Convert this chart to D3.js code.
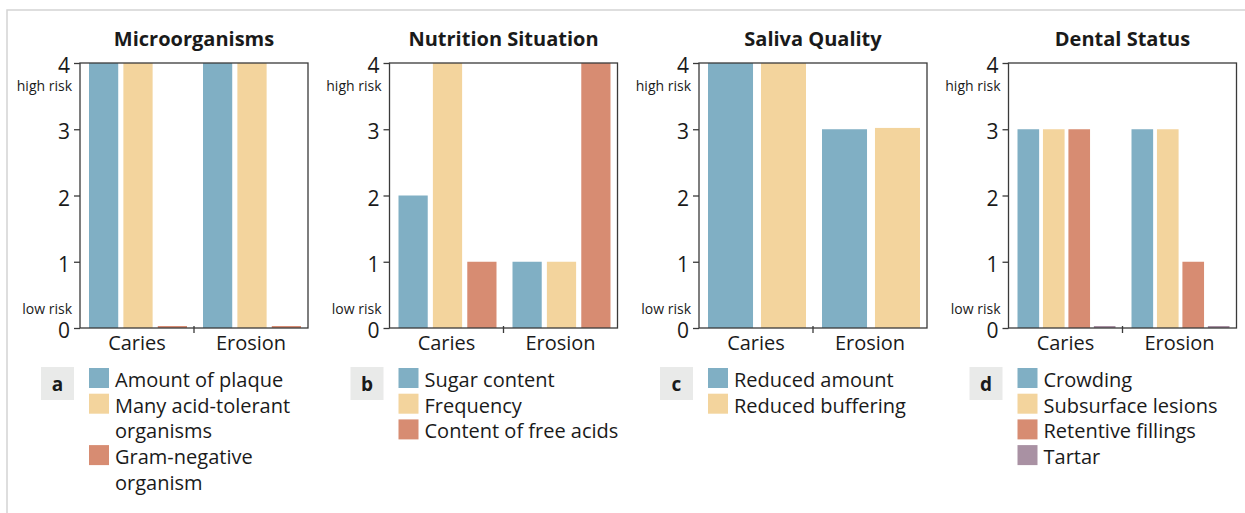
<!DOCTYPE html>
<html>
<head>
<meta charset="utf-8">
<script src="https://cdn.jsdelivr.net/npm/d3@7"></script>
<style>
  body { margin: 0; background: #fff; }
  svg { display: block; font-family: "Open Sans", sans-serif; }
</style>
</head>
<body>
<svg id="chart" width="1245" height="513"></svg>
<script>
// values
const categories = ['Caries', 'Erosion']
const yTicks = [0, 1, 2, 3, 4]

const panelTitles = ['Microorganisms', 'Nutrition Situation', 'Saliva Quality', 'Dental Status']
const panelLetters = ['a', 'b', 'c', 'd']

const microSeries = ['Amount of plaque', 'Many acid-tolerant organisms', 'Gram-negative organism']
const microValues = [[4, 4, 0.03], [4, 4, 0.03]]

const nutritionSeries = ['Sugar content', 'Frequency', 'Content of free acids']
const nutritionValues = [[2, 4, 1], [1, 1, 4]]

const salivaSeries = ['Reduced amount', 'Reduced buffering']
const salivaValues = [[4, 4], [3, 3.02]]

const dentalSeries = ['Crowding', 'Subsurface lesions', 'Retentive fillings', 'Tartar']
const dentalValues = [[3, 3, 3, 0.03], [3, 3, 1, 0.03]]

const colors = ['#80afc4', '#f3d49d', '#d78c72', '#a991a3']

const panels = [
  { series: microSeries, values: microValues },
  { series: nutritionSeries, values: nutritionValues },
  { series: salivaSeries, values: salivaValues },
  { series: dentalSeries, values: dentalValues }
]

const svg = d3.select('#chart')

// outer frame (open to the right / bottom)
svg.append('path')
  .attr('d', 'M7,513 V10 H1245')
  .attr('fill', 'none')
  .attr('stroke', '#d4d4d4')
  .attr('stroke-width', 1.5)

const plotTop = 63, plotH = 265, plotW = 228
const axisColor = '#3a3a3a'
const textColor = '#1a1a1a'

const y = d3.scaleLinear().domain([0, 4]).range([plotH, 0])

panels.forEach((p, i) => {

  const left = 80 + i * 309.5
  const g = svg.append('g').attr('transform', `translate(${ left },${ plotTop })`)

  const x0 = d3.scaleBand().domain(categories).range([0, plotW])
  const x1 = d3.scaleBand()
    .domain(d3.range(p.series.length))
    .range([9, x0.bandwidth() - 7])
    .paddingInner(0.15)

  // title
  g.append('text')
    .attr('x', plotW / 2)
    .attr('y', -17)
    .attr('text-anchor', 'middle')
    .attr('font-weight', 700)
    .attr('font-size', 20)
    .attr('fill', textColor)
    .text(panelTitles[i])

  // bars
  categories.forEach((c, ci) => {
    g.append('g')
      .attr('transform', `translate(${ x0(c) },0)`)
      .selectAll('rect')
      .data(p.values[ci])
      .join('rect')
      .attr('x', (d, si) => x1(si))
      .attr('width', x1.bandwidth())
      .attr('y', d => y(d))
      .attr('height', d => plotH - y(d))
      .attr('fill', (d, si) => colors[si])
  })

  // box
  g.append('rect')
    .attr('width', plotW)
    .attr('height', plotH)
    .attr('fill', 'none')
    .attr('stroke', axisColor)
    .attr('stroke-width', 1.3)

  // y axis
  const ya = g.append('g')
    .call(d3.axisLeft(y).tickValues(yTicks).tickFormat(d3.format('d')).tickSize(6).tickSizeOuter(0))
  ya.select('.domain').remove()
  ya.selectAll('line').attr('stroke', axisColor).attr('stroke-width', 1.3)
  ya.selectAll('text')
    .attr('font-size', 21)
    .attr('font-family', '"Open Sans", sans-serif')
    .attr('fill', textColor)
    .attr('x', -10)
    .attr('dy', '0.46em')

  g.append('text')
    .attr('x', -8).attr('y', 28)
    .attr('text-anchor', 'end')
    .attr('font-size', 14)
    .attr('fill', textColor)
    .text('high risk')

  g.append('text')
    .attr('x', -8).attr('y', plotH - 14)
    .attr('text-anchor', 'end')
    .attr('font-size', 14)
    .attr('fill', textColor)
    .text('low risk')

  // separator tick between the groups
  g.append('line')
    .attr('x1', x0(categories[1])).attr('x2', x0(categories[1]))
    .attr('y1', plotH - 2).attr('y2', plotH + 5)
    .attr('stroke', axisColor)
    .attr('stroke-width', 1.3)

  // category labels
  g.selectAll('.cat')
    .data(categories)
    .join('text')
    .attr('class', 'cat')
    .attr('x', d => x0(d) + x0.bandwidth() / 2)
    .attr('y', plotH + 22)
    .attr('text-anchor', 'middle')
    .attr('font-size', 20)
    .attr('fill', textColor)
    .text(d => d)

  // legend
  const legX = x1(0)
  const legTop = 304
  g.append('rect')
    .attr('x', -39).attr('y', legTop)
    .attr('width', 33).attr('height', 33)
    .attr('fill', '#e9eae9')
  g.append('text')
    .attr('x', -22.5).attr('y', legTop + 24)
    .attr('text-anchor', 'middle')
    .attr('font-weight', 700)
    .attr('font-size', 19)
    .attr('fill', textColor)
    .text(panelLetters[i])

  let line = 0
  const lineH = 25.7
  p.series.forEach((name, si) => {
    const ly = legTop + 1 + line * lineH
    g.append('rect')
      .attr('x', legX).attr('y', ly)
      .attr('width', 20).attr('height', 20)
      .attr('fill', colors[si])

    const t = g.append('text')
      .attr('font-size', 20)
      .attr('fill', textColor)
    // simple word wrap
    const words = name.split(' ')
    let cur = []
    let tspan = t.append('tspan').attr('x', legX + 26).attr('y', ly + 19)
    words.forEach(w => {
      cur.push(w)
      tspan.text(cur.join(' '))
      if (tspan.node().getComputedTextLength() > 210 && cur.length > 1) {
        cur.pop()
        tspan.text(cur.join(' '))
        cur = [w]
        line++
        tspan = t.append('tspan').attr('x', legX + 26).attr('y', legTop + 1 + line * lineH + 19).text(w)
      }
    })
    line++
  })
})
</script>
</body>
</html>
